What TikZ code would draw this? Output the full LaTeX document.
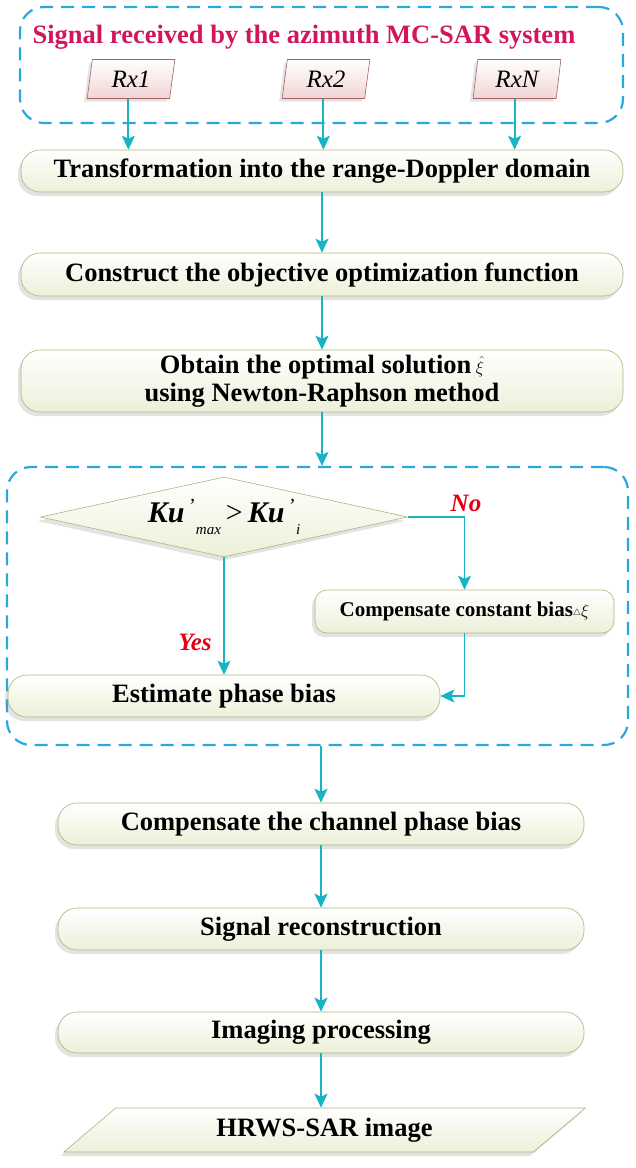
\documentclass[tikz,border=0pt]{standalone}
\usepackage{fontspec}
\setmainfont{Liberation Serif}
\usetikzlibrary{shapes.geometric, arrows.meta, shadows}
\definecolor{flowcyan}{RGB}{24,180,196}
\definecolor{frameblue}{RGB}{41,168,224}
\definecolor{titlered}{RGB}{210,22,92}
\definecolor{boxedge}{RGB}{176,178,128}
\definecolor{boxfill}{RGB}{236,240,216}
\definecolor{rxfill}{RGB}{242,212,212}
\definecolor{rxedge}{RGB}{168,98,98}
\definecolor{yesred}{RGB}{228,0,18}
\newcommand{\kuval}[1]{\textbf{\textit{Ku}}\raisebox{0.32em}{\fontsize{20}{20}\selectfont\itshape\,’}\raisebox{-0.42em}{\fontsize{15}{15}\selectfont\itshape\hspace{0.1em}#1}}

\begin{document}
\begin{tikzpicture}[x=1pt, y=-1pt,
  sbox/.style={draw=boxedge, line width=0.6pt, top color=white, bottom color=boxfill, rounded corners=19pt, minimum height=42pt, inner sep=0pt, font=\fontsize{26.5}{28}\selectfont\bfseries, drop shadow={shadow xshift=-3pt, shadow yshift=-4pt, opacity=0.22}},
  rxbox/.style={trapezium, trapezium left angle=81, trapezium right angle=99, trapezium stretches=true, draw=rxedge, line width=0.6pt, top color=white, bottom color=rxfill, minimum width=88pt, minimum height=39pt, inner sep=0pt, font=\fontsize{25}{25}\selectfont\itshape, drop shadow={shadow xshift=-3pt, shadow yshift=-3pt, opacity=0.22}},
  grp/.style={draw=frameblue, line width=2.2pt, dash pattern=on 13pt off 8pt, rounded corners=24pt, inner sep=0pt},
  arr/.style={draw=flowcyan, line width=1.8pt, -{Stealth[length=14pt, width=13pt, inset=3pt]}},
  lbl/.style={text=yesred, font=\fontsize{25}{25}\selectfont\bfseries\itshape, inner sep=0pt}
]
  \useasboundingbox (0,0) rectangle (635,1168);

  \node[grp, minimum width=603pt, minimum height=116pt] (grp1) at (321.5,65) {};
  \node[text=titlered, font=\fontsize{26.5}{28}\selectfont\bfseries, inner sep=0pt] (title) at (304,37) {Signal received by the azimuth MC-SAR system};
  \node[rxbox] (rx1) at (131,79) {Rx1};
  \node[rxbox] (rx2) at (326,79) {Rx2};
  \node[rxbox] (rxn) at (517,79) {RxN};

  \node[sbox, minimum width=602pt] (trans) at (322,171) {Transformation into the range-Doppler domain};
  \node[sbox, minimum width=602pt, minimum height=43pt] (cons) at (322,274.5) {Construct the objective optimization function};
  \node[sbox, minimum width=602pt, minimum height=62pt, align=center] (newt) at (322,381) {Obtain the optimal solution\,{\fontsize{18}{18}\selectfont$\hat{\xi}$}\\using Newton-Raphson method};

  \node[grp, minimum width=621pt, minimum height=278pt] (grp2) at (317.5,606) {};
  \node[diamond, draw=boxedge, line width=0.6pt, top color=white, bottom color=boxfill, minimum width=367pt, minimum height=80pt, aspect=4.6, inner sep=0pt, font=\fontsize{30}{30}\selectfont, drop shadow={shadow xshift=-3pt, shadow yshift=-4pt, opacity=0.22}] (cmp) at (224,517) {\kuval{max}\,{>}\,\kuval{i}};
  \node[sbox, rounded corners=12pt, minimum width=299pt, minimum height=43pt, font=\fontsize{21}{24}\selectfont\bfseries] (bias) at (464.5,611.5) {Compensate constant bias\raisebox{1pt}{\fontsize{9}{9}\selectfont$\triangle$}{\fontsize{18}{18}\selectfont$\xi$}};
  \node[sbox, minimum width=432pt] (est) at (224,696) {Estimate phase bias};
  \node[lbl] (no) at (466,503) {No};
  \node[lbl] (yes) at (195,642) {Yes};

  \node[sbox, minimum width=526pt] (chan) at (321,824) {Compensate the channel phase bias};
  \node[sbox, minimum width=526pt] (recon) at (321,929) {Signal reconstruction};
  \node[sbox, minimum width=526pt, minimum height=41pt] (imag) at (321,1032.5) {Imaging processing};
  \node[trapezium, trapezium left angle=42, trapezium right angle=138, trapezium stretches=true, draw=boxedge, line width=0.6pt, top color=white, bottom color=boxfill, minimum width=523pt, minimum height=44pt, inner sep=0pt, font=\fontsize{26.5}{28}\selectfont\bfseries, drop shadow={shadow xshift=-3pt, shadow yshift=-4pt, opacity=0.22}] (hrws) at (324.5,1130) {HRWS-SAR image};

  \draw[arr] (rx1.bottom side) -- (rx1.bottom side |- trans.north);
  \draw[arr] (rx2.bottom side) -- (rx2.bottom side |- trans.north);
  \draw[arr] (rxn.bottom side) -- (rxn.bottom side |- trans.north);
  \draw[arr] (trans.south) -- (cons.north);
  \draw[arr] (cons.south) -- (newt.north);
  \draw[arr] (newt.south) -- (newt.south |- grp2.north);
  \draw[arr] (cmp.east) -| (bias.north);
  \draw[arr] (bias.south) |- (est.east);
  \draw[arr] (cmp.south) -- (cmp.south |- est.north);
  \draw[arr] (chan.north |- grp2.south) -- (chan.north);
  \draw[arr] (chan.south) -- (recon.north);
  \draw[arr] (recon.south) -- (imag.north);
  \draw[arr] (imag.south) -- (imag.south |- hrws.north);
\end{tikzpicture}
\end{document}
